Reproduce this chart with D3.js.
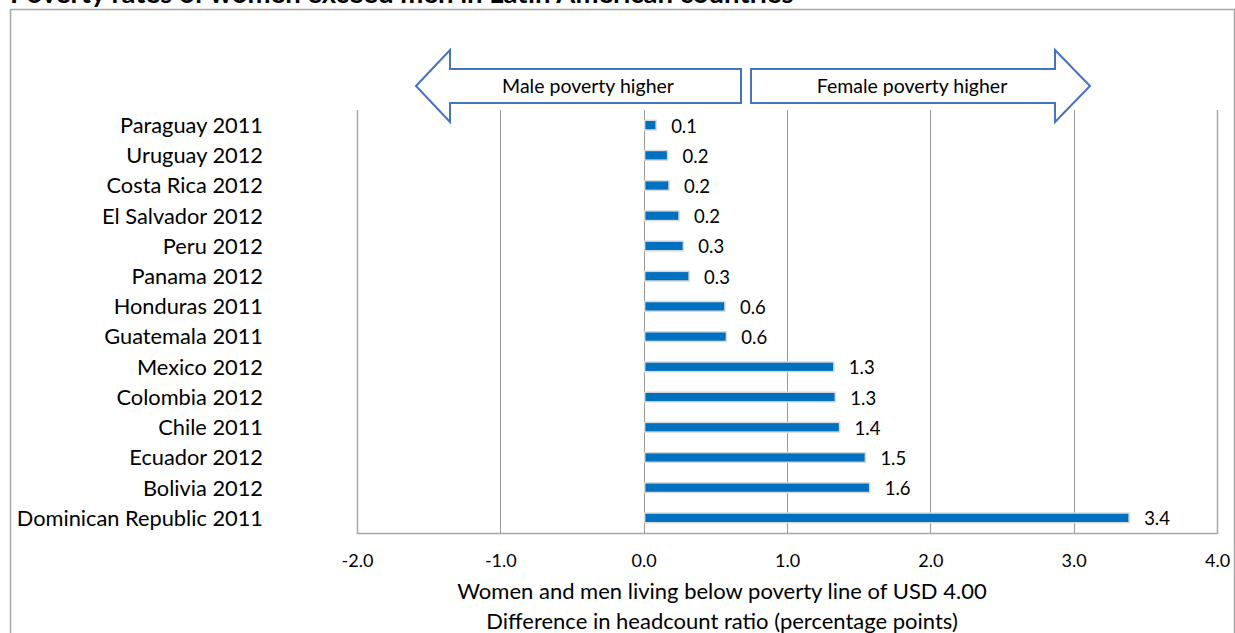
<!DOCTYPE html>
<html>
<head>
<meta charset="utf-8">
<script src="https://cdn.jsdelivr.net/npm/d3@7"></script>
<style>
  html, body { margin: 0; padding: 0; background: #fff; }
  svg { display: block; }
  text { font-family: Lato, "Open Sans", sans-serif; fill: #000; }
</style>
</head>
<body>
<svg id="chart" width="1235" height="633"></svg>
<script>
// Difference in poverty headcount ratio (women minus men), percentage points
const categories = [
  "Paraguay 2011", "Uruguay 2012", "Costa Rica 2012", "El Salvador 2012",
  "Peru 2012", "Panama 2012", "Honduras 2011", "Guatemala 2011",
  "Mexico 2012", "Colombia 2012", "Chile 2011", "Ecuador 2012",
  "Bolivia 2012", "Dominican Republic 2011"
];
const values = [0.08, 0.16, 0.17, 0.24, 0.27, 0.31, 0.56, 0.57, 1.32, 1.33, 1.36, 1.54, 1.57, 3.38];
const xTicks = [-2, -1, 0, 1, 2, 3, 4];
const titleText = "Poverty rates of women exceed men in Latin American countries";
const axisTitle = ["Women and men living below poverty line of USD 4.00",
                   "Difference in headcount ratio (percentage points)"];
const arrowLabels = ["Male poverty higher", "Female poverty higher"];

const svg = d3.select("#chart");
const plot = { left: 357, right: 1217, top: 110, bottom: 533 };

const x = d3.scaleLinear().domain([-2, 4]).range([plot.left, plot.right]);
const y = d3.scaleBand().domain(categories).range([plot.top, plot.bottom]).paddingInner(0.68).paddingOuter(0.34);
// one decimal, plain hyphen for negatives
const fmt = d => d3.format(".1f")(d).replace("\u2212", "-");

// Outer chart frame
svg.append("rect")
  .attr("x", 10.5).attr("y", 9.5).attr("width", 1224).attr("height", 640)
  .attr("fill", "none").attr("stroke", "#a6a6a6").attr("stroke-width", 1.5);

// Title (top of the chart)
svg.append("text")
  .attr("x", 10).attr("y", 3)
  .attr("font-weight", "bold").attr("font-size", 27.5)
  .text(titleText);

// Vertical gridlines
svg.append("g").selectAll("line")
  .data(xTicks.filter(d => d > -2 && d < 4))
  .join("line")
  .attr("x1", d => Math.round(x(d)) + 0.5).attr("x2", d => Math.round(x(d)) + 0.5)
  .attr("y1", plot.top).attr("y2", plot.bottom)
  .attr("stroke", "#999").attr("stroke-width", 1);

// Plot area border (left, bottom, right)
svg.append("path")
  .attr("d", `M${plot.left + 0.5},${plot.top}V${plot.bottom + 0.5}H${plot.right + 0.5}V${plot.top}`)
  .attr("fill", "none").attr("stroke", "#a6a6a6").attr("stroke-width", 1.5);

// X axis tick labels
const xAxis = d3.axisBottom(x).tickValues(xTicks).tickFormat(fmt).tickSize(0).tickPadding(0);
const gx = svg.append("g").attr("transform", `translate(0,${plot.bottom})`).call(xAxis);
gx.select(".domain").remove();
gx.selectAll("text")
  .attr("dy", null).attr("y", 34)
  .attr("font-size", 18).attr("font-family", "Lato, sans-serif").attr("fill", "#000");

// Category labels
const yAxis = d3.axisLeft(y).tickSize(0).tickPadding(0);
const gy = svg.append("g").attr("transform", `translate(263,0)`).call(yAxis);
gy.select(".domain").remove();
gy.selectAll("text")
  .attr("font-size", 21.8).attr("font-family", "Lato, sans-serif").attr("fill", "#000")
  .attr("dy", "0.36em").attr("x", 0);

// Bars
const bars = svg.append("g");
bars.selectAll("rect")
  .data(values)
  .join("rect")
  .attr("x", x(0) + 1)
  .attr("y", (d, i) => y(categories[i]))
  .attr("width", d => x(d) - x(0))
  .attr("height", y.bandwidth())
  .attr("fill", "#0070C0")
  .attr("stroke", "#d9d9d9").attr("stroke-width", 1.5);

// Value labels
svg.append("g").selectAll("text")
  .data(values)
  .join("text")
  .attr("x", d => x(d) + 16)
  .attr("y", (d, i) => y(categories[i]) + y.bandwidth() / 2 + 1)
  .attr("dy", "0.35em")
  .attr("font-size", 18.5)
  .text(d => fmt(d));

// Axis title
svg.append("g").selectAll("text")
  .data(axisTitle)
  .join("text")
  .attr("x", 722).attr("y", (d, i) => 599 + i * 30)
  .attr("text-anchor", "middle")
  .attr("font-size", 22)
  .text(d => d);

// Direction arrows
const arrowStyle = s => s.attr("fill", "#fff").attr("stroke", "#4472C4").attr("stroke-width", 2).attr("stroke-linejoin", "miter");
const aTop = 69, aBot = 103, hTop = 50, hBot = 122, aMid = 86;
svg.append("path").call(arrowStyle)
  .attr("d", `M416,${aMid}L450,${hTop}V${aTop}H741V${aBot}H450V${hBot}Z`);
svg.append("path").call(arrowStyle)
  .attr("d", `M1090,${aMid}L1055,${hTop}V${aTop}H751V${aBot}H1055V${hBot}Z`);
svg.append("text").attr("x", 588).attr("y", aMid).attr("dy", "0.35em")
  .attr("text-anchor", "middle").attr("font-size", 19.5).text(arrowLabels[0]);
svg.append("text").attr("x", 912).attr("y", aMid).attr("dy", "0.35em")
  .attr("text-anchor", "middle").attr("font-size", 19.5).text(arrowLabels[1]);
</script>
</body>
</html>
